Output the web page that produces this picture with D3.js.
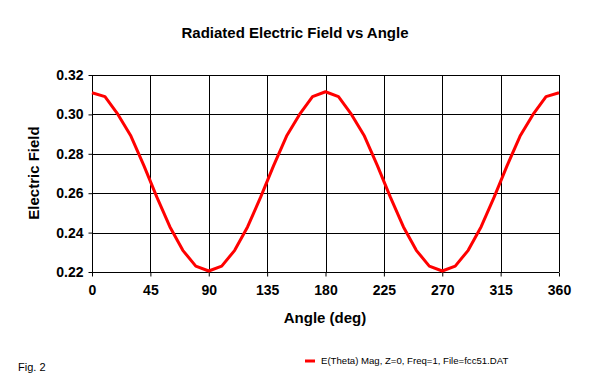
<!DOCTYPE html>
<html>
<head>
<meta charset="utf-8">
<script src="https://cdn.jsdelivr.net/npm/d3@7"></script>
<style>
  body { margin: 0; background: #fff; }
  text { font-family: Arial, "Liberation Sans", sans-serif; }
</style>
</head>
<body>
<div id="chart"></div>
<script>
// angle (deg) and radiated field magnitude
var angles = [0,10,20,30,40,50,60,70,80,90,100,110,120,130,140,150,160,170,180,
              190,200,210,220,230,240,250,260,270,280,290,300,310,320,330,340,350,360];
var field = [0.311,0.309,0.300,0.289,0.274,0.258,0.243,0.231,0.223,0.2205,0.223,0.231,0.243,0.258,0.274,0.289,0.300,0.309,0.3115,
             0.309,0.300,0.289,0.274,0.258,0.243,0.231,0.223,0.2205,0.223,0.231,0.243,0.258,0.274,0.289,0.300,0.309,0.311];
var xTicks = [0,45,90,135,180,225,270,315,360];
var yTicks = [0.22,0.24,0.26,0.28,0.30,0.32];

var w = 592, h = 386;
var pLeft = 92, pRight = 559, pTop = 75, pBottom = 272;

var svg = d3.select("#chart").append("svg")
    .attr("width", w).attr("height", h);

var x = d3.scaleLinear().domain([0, 360]).range([pLeft, pRight]);
var y = d3.scaleLinear().domain([0.22, 0.32]).range([pBottom, pTop]);

// grid
svg.append("g").selectAll("line").data(xTicks).enter().append("line")
    .attr("x1", function(d){ return Math.round(x(d)) + 0.5; })
    .attr("x2", function(d){ return Math.round(x(d)) + 0.5; })
    .attr("y1", pTop).attr("y2", pBottom)
    .attr("stroke", "#000").attr("stroke-width", 1);
svg.append("g").selectAll("line").data(yTicks).enter().append("line")
    .attr("y1", function(d){ return Math.round(y(d)) + 0.5; })
    .attr("y2", function(d){ return Math.round(y(d)) + 0.5; })
    .attr("x1", pLeft).attr("x2", pRight)
    .attr("stroke", "#000").attr("stroke-width", 1);

var xAxis = d3.axisBottom(x).tickValues(xTicks).tickSize(4).tickPadding(9)
    .tickFormat(d3.format("d"));
var yAxis = d3.axisLeft(y).tickValues(yTicks).tickSize(4).tickPadding(5)
    .tickFormat(d3.format(".2f"));

var gx = svg.append("g")
    .attr("transform", "translate(0," + (pBottom + 0.5) + ")")
    .call(xAxis);
var gy = svg.append("g")
    .attr("transform", "translate(" + (pLeft + 0.5) + ",0)")
    .call(yAxis);
[gx, gy].forEach(function(g){
  g.select(".domain").remove();
  g.selectAll("line").attr("stroke", "#000");
  g.selectAll("text").attr("font-size", 14).attr("font-weight", "bold")
    .attr("fill", "#000").style("font-family", "Arial, 'Liberation Sans', sans-serif");
});

// curve
var line = d3.line()
    .x(function(d, i){ return x(angles[i]); })
    .y(function(d){ return y(d); });
svg.append("path").datum(field)
    .attr("d", line)
    .attr("fill", "none")
    .attr("stroke", "#ff0000")
    .attr("stroke-width", 3)
    .attr("stroke-linejoin", "round");

// titles
svg.append("text").attr("x", 295).attr("y", 38)
    .attr("text-anchor", "middle").attr("font-size", 15).attr("font-weight", "bold")
    .text("Radiated Electric Field vs Angle");
svg.append("text").attr("x", 325).attr("y", 323)
    .attr("text-anchor", "middle").attr("font-size", 15).attr("font-weight", "bold")
    .text("Angle (deg)");
svg.append("text")
    .attr("transform", "translate(39,173) rotate(-90)")
    .attr("text-anchor", "middle").attr("font-size", 15).attr("font-weight", "bold")
    .text("Electric Field");

svg.append("text").attr("x", 18).attr("y", 371)
    .attr("font-size", 11).text("Fig. 2");

// legend
svg.append("line").attr("x1", 305).attr("x2", 315).attr("y1", 361).attr("y2", 361)
    .attr("stroke", "#ff0000").attr("stroke-width", 3);
svg.append("text").attr("x", 321).attr("y", 364)
    .attr("font-size", 9.6).text("E(Theta) Mag, Z=0, Freq=1, File=fcc51.DAT");
</script>
</body>
</html>
